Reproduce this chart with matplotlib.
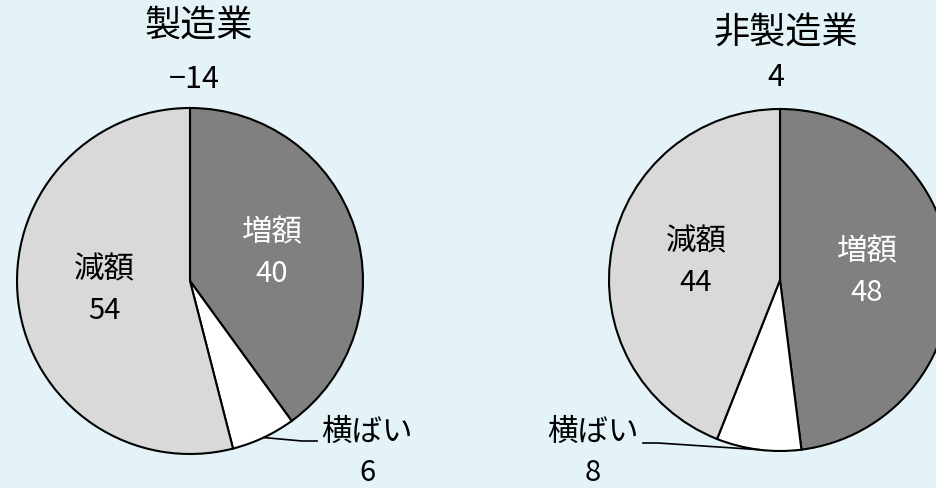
import numpy as np
import matplotlib.pyplot as plt

plt.rcParams['font.family'] = ['Noto Sans CJK JP', 'DejaVu Sans']

# data
categories = ['増額', '横ばい', '減額']
manufacturing = [40, 6, 54]
non_manufacturing = [48, 8, 44]
titles = ['製造業', '非製造業']
net_values = ['−14', '4']

colors = ['#808080', '#ffffff', '#d9d9d9']
text_colors = ['white', 'black', 'black']
bg = '#e3f3f8'

W, H = 937, 488


def py(y):
    # pixel row (from top) -> data y
    return H - y


fig = plt.figure(figsize=(W / 100, H / 100), dpi=100, facecolor=bg)
ax = fig.add_axes([0, 0, 1, 1])

# layout of each pie: centre, radius, title positions, label positions
pies = [
    dict(values=manufacturing, center=(190, 281), radius=173,
         title=(199, 26), net=(194, 79),
         labels=[(272, 233), (367, 432), (104, 270)],
         leader_end=(317, 441)),
    dict(values=non_manufacturing, center=(780, 280), radius=171,
         title=(786, 33), net=(776, 77),
         labels=[(867, 252), (593, 432), (696, 242)],
         leader_end=(643, 443)),
]

for p, title, net in zip(pies, titles, net_values):
    cx, cy = p['center']
    ax.pie(p['values'], colors=colors, startangle=90, counterclock=False,
           center=(cx, py(cy)), radius=p['radius'],
           wedgeprops=dict(edgecolor='black', linewidth=1.5))

    ax.text(p['title'][0], py(p['title'][1]), title, fontsize=26,
            ha='center', va='center')
    ax.text(p['net'][0], py(p['net'][1]), net, fontsize=22,
            ha='center', va='center')

    for cat, val, (lx, ly), tc in zip(categories, p['values'], p['labels'], text_colors):
        ax.text(lx, py(ly), cat, fontsize=22, color=tc, ha='center', va='center')
        ax.text(lx, py(ly + 41), str(val), fontsize=21, color=tc,
                ha='center', va='center')

    # leader line for the small slice
    vals = np.array(p['values'], dtype=float)
    mid = (vals[0] + vals[1] / 2) / vals.sum() * 360
    ang = np.deg2rad(90 - mid)
    ex = cx + p['radius'] * np.cos(ang)
    ey = py(cy) + p['radius'] * np.sin(ang)
    lx, ly = p['leader_end']
    kx = lx - 15 if lx > cx else lx + 15
    ax.plot([ex, kx, lx], [ey, py(ly), py(ly)], color='black', lw=1.2)

ax.set_xlim(0, W)
ax.set_ylim(0, H)
ax.set_aspect('equal')
ax.axis('off')

fig.savefig('out.png', dpi=100, facecolor=bg)
